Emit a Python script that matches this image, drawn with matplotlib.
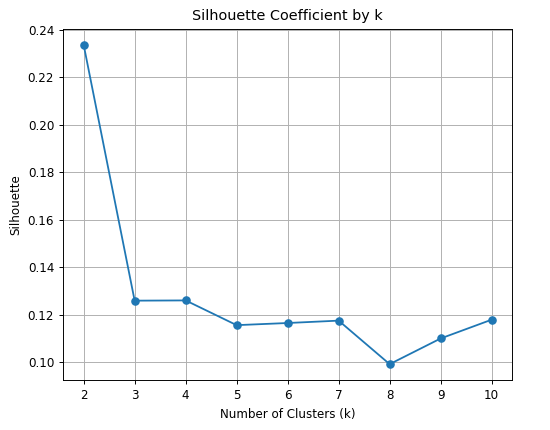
import matplotlib
matplotlib.use("Agg")
import matplotlib.pyplot as plt

k_values = [2, 3, 4, 5, 6, 7, 8, 9, 10]
silhouette = [0.2336, 0.1260, 0.1261, 0.1157, 0.1166, 0.1176, 0.0993, 0.1101, 0.1180]

scale = 0.86
plt.rcParams['font.size'] = 10 * scale

fig = plt.figure(figsize=(5.5, 4.3), dpi=100)
ax = fig.add_axes([0.115, 0.116, 0.816, 0.817])
ax.plot(k_values, silhouette, marker='o', color='#1f77b4',
        linewidth=1.5 * scale, markersize=6 * scale)
ax.set_title("Silhouette Coefficient by k", fontsize=12 * scale)
ax.set_xlabel("Number of Clusters (k)")
ax.set_ylabel("Silhouette")
ax.set_xticks(k_values)
ax.set_yticks([0.10, 0.12, 0.14, 0.16, 0.18, 0.20, 0.22, 0.24])
ax.grid(True, color='#b0b0b0', linewidth=0.8 * scale)
for s in ax.spines.values():
    s.set_linewidth(0.8 * scale)
ax.tick_params(width=0.8 * scale, length=3.5 * scale)
fig.savefig("out.png", dpi=100)
